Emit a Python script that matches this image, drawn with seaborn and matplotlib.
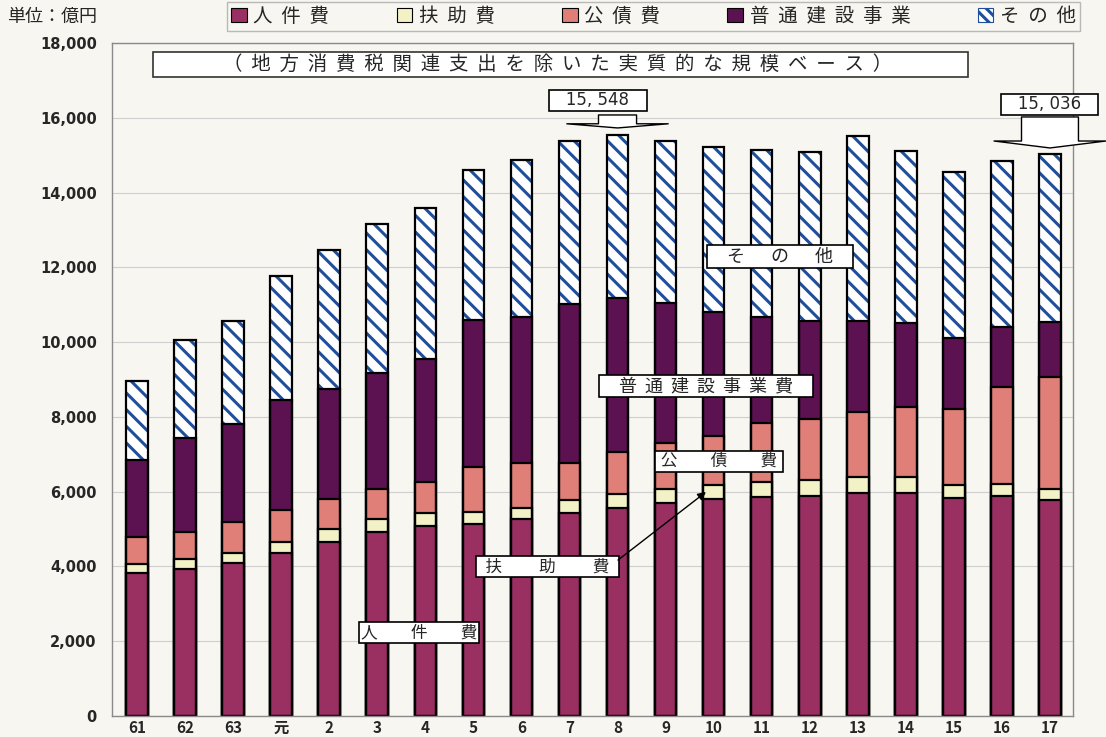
import pandas as pd
import seaborn as sns
import matplotlib.pyplot as plt
from matplotlib.patches import Patch, Rectangle

years = ['61', '62', '63', '元', '2', '3', '4', '5', '6', '7',
         '8', '9', '10', '11', '12', '13', '14', '15', '16', '17']
jinken = [3816, 3932, 4092, 4350, 4662, 4913, 5082, 5135, 5269, 5421,
          5554, 5688, 5804, 5848, 5884, 5956, 5956, 5831, 5884, 5777]
fujo = [241, 258, 276, 295, 331, 347, 355, 311, 302, 356,
        375, 383, 382, 418, 428, 444, 444, 338, 321, 286]
kosai = [739, 740, 812, 865, 802, 803, 829, 1205, 1187, 998,
         1124, 1239, 1311, 1564, 1640, 1730, 1872, 2050, 2584, 3010]
futsu = [2051, 2513, 2630, 2941, 2942, 3103, 3290, 3940, 3905, 4244,
         4118, 3728, 3300, 2850, 2621, 2443, 2231, 1899, 1607, 1456]
sonota = [2103, 2613, 2754, 3317, 3726, 3992, 4030, 4012, 4207, 4368,
          4377, 4349, 4430, 4467, 4520, 4939, 4597, 4421, 4455, 4507]

series = ['人件費', '扶助費', '公債費', '普通建設事業', 'その他']
colors = ['#9a2f62', '#f3f1c6', '#e07e78', '#5c1150', 'white']
hatch_blue = '#1f4f9c'

df = pd.DataFrame({'year': years, '人件費': jinken, '扶助費': fujo,
                   '公債費': kosai, '普通建設事業': futsu, 'その他': sonota})
cum = df[series].cumsum(axis=1)
cum['year'] = years

sns.set_style('white')
plt.rcParams['font.family'] = ['Noto Sans CJK JP', 'DejaVu Sans']
plt.rcParams['hatch.linewidth'] = 2.2

bg = '#f7f6f1'
fig, ax = plt.subplots(figsize=(11.06, 7.37), dpi=100)
fig.patch.set_facecolor(bg)
ax.set_facecolor(bg)
fig.subplots_adjust(left=0.1013, right=0.9702, bottom=0.0285, top=0.9417)

bw = 0.45
# stacked look: tallest (hatched) first, lower cumulative layers on top
sns.barplot(data=cum, x='year', y='その他', color='white', hatch='\\\\',
            edgecolor=hatch_blue, linewidth=0, width=bw, saturation=1,
            errorbar=None, ax=ax)
for name, col in zip(series[3::-1], colors[3::-1]):
    sns.barplot(data=cum, x='year', y=name, color=col, edgecolor='black',
                linewidth=1.6, width=bw, saturation=1, errorbar=None, ax=ax)
sns.barplot(data=cum, x='year', y='その他', color='black', fill=False,
            linewidth=1.6, width=bw, saturation=1, errorbar=None, ax=ax)

ax.set_ylim(0, 18000)
ax.set_xlim(-0.52, 19.48)
ax.set_yticks(range(0, 18001, 2000))
ax.set_yticklabels([f'{v:,}' for v in range(0, 18001, 2000)],
                   fontsize=10.5, fontweight='bold', family=['DejaVu Sans'])
ax.set_xticks(range(len(years)))
ax.set_xticklabels(years, fontsize=11, fontweight='bold')
ax.set_xticks([i + 0.5 for i in range(len(years) - 1)], minor=True)
ax.tick_params(axis='x', which='major', length=0, pad=3)
ax.tick_params(axis='x', which='minor', length=4, direction='in', color='#888888')
ax.tick_params(axis='y', length=0, pad=11)
ax.set_xlabel('')
ax.set_ylabel('')
ax.yaxis.grid(True, color='#cfcfcf', linewidth=0.8)
ax.set_axisbelow(True)
for s in ax.spines.values():
    s.set_color('#8a8a8a')
    s.set_linewidth(1.0)

# subtitle box
ax.add_patch(Rectangle((0.333, 17090), 16.96, 669, facecolor='white',
                       edgecolor='#333333', lw=1.2, zorder=4))
title = '  '.join('（地方消費税関連支出を除いた実質的な規模ベース）')
ax.text(8.75, 17430, title, ha='center', va='center', fontsize=14, zorder=5)

box = dict(boxstyle='square,pad=0.12', fc='white', ec='black', lw=1.2)
numbox = dict(boxstyle='square,pad=0.08', fc='white', ec='black', lw=1.2)

ax.text(9.59, 16462, '   15, 548   ', ha='center', va='center', fontsize=12,
        family=['DejaVu Sans'], bbox=numbox)
ax.annotate('', xy=(10, 15727), xytext=(10, 16074),
            arrowprops=dict(arrowstyle='simple,head_length=0.3,head_width=7.3,tail_width=2.74',
                            fc='white', ec='black', lw=1, mutation_scale=10,
                            shrinkA=0, shrinkB=0))
ax.text(18.99, 16355, '   15, 036   ', ha='center', va='center', fontsize=12,
        family=['DejaVu Sans'], bbox=numbox)
ax.annotate('', xy=(19, 15192), xytext=(19, 16021),
            arrowprops=dict(arrowstyle='simple,head_length=0.5,head_width=8.06,tail_width=4.1',
                            fc='white', ec='black', lw=1, mutation_scale=10,
                            shrinkA=0, shrinkB=0))

ax.text(13.38, 12290, '\u3000そ\u3000  の\u3000  他\u3000', ha='center', va='center',
        fontsize=13, bbox=box)
ax.text(11.84, 8826, '\u3000' + '  '.join('普通建設事業費') + '\u3000', ha='center',
        va='center', fontsize=13, bbox=box)
ax.text(12.11, 6807, ' 公\u3000\u3000債\u3000\u3000費 ', ha='center', va='center',
        fontsize=12, bbox=box)
ax.text(8.54, 3985, '  扶\u3000\u3000 助\u3000\u3000 費  ', ha='center', va='center',
        fontsize=12, bbox=box)
ax.annotate('', xy=(11.84, 5991), xytext=(10.01, 4170),
            arrowprops=dict(arrowstyle='-|>', color='black', lw=1.0, mutation_scale=12,
                            shrinkA=0, shrinkB=0))
ax.text(5.87, 2220, '人\u3000\u3000件\u3000\u3000費', ha='center', va='center',
        fontsize=12, bbox=box)

handles = []
for name, col in zip(series, colors):
    if name == 'その他':
        handles.append(Patch(facecolor='white', edgecolor=hatch_blue, hatch='\\\\\\', lw=0.8))
    else:
        handles.append(Patch(facecolor=col, edgecolor='black', lw=0.8))
labels = ['  '.join(s) for s in series]
leg = fig.legend(handles, labels, loc='center', bbox_to_anchor=(0.5909, 0.9776), ncol=5,
                 fontsize=14, frameon=True, fancybox=False, edgecolor='#aaaaaa',
                 handlelength=0.8, handleheight=0.7, handletextpad=0.35,
                 columnspacing=3.45, borderpad=0.2)
leg.get_frame().set_facecolor(bg)
fig.text(0.047, 0.977, '単位：億円', ha='center', va='center', fontsize=13)

fig.savefig('out.png', dpi=100, facecolor=bg)
